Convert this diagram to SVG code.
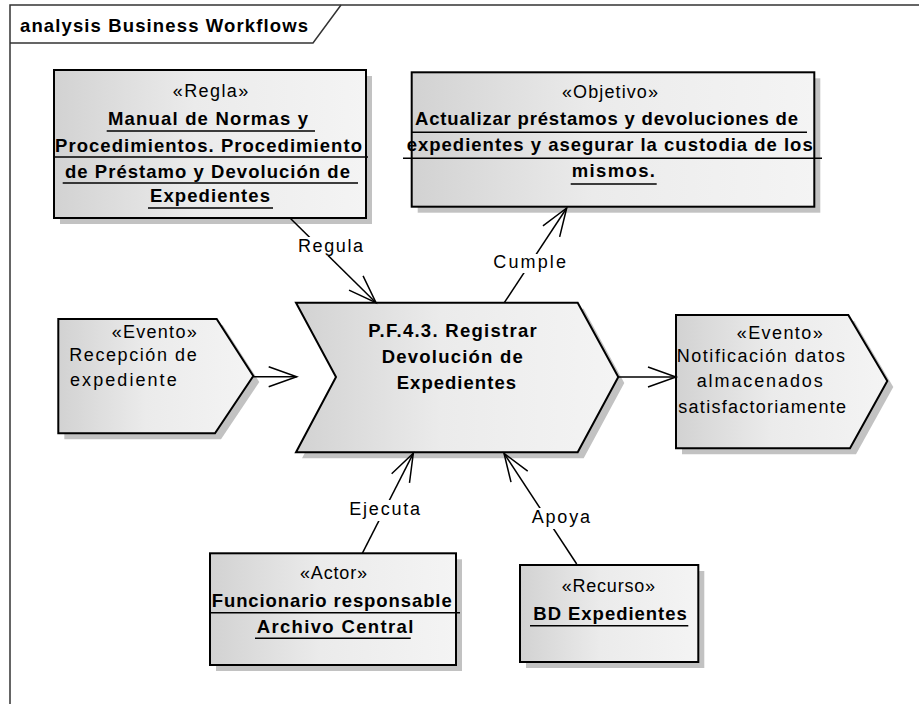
<svg xmlns="http://www.w3.org/2000/svg" width="919" height="704" viewBox="0 0 919 704">
<style>
text{font-family:"Liberation Sans",Arial,sans-serif;font-size:18px;fill:#000}
.b{font-weight:bold;font-size:18.5px}
.shape{fill:url(#g);stroke:#000;stroke-width:2}
.shadow{fill:#c2c2c2;stroke:none}
.ul{stroke:#000;stroke-width:1.5}
.con{fill:none;stroke:#000;stroke-width:1.5}
.lbg{fill:#fff}
.frame{fill:none;stroke:#333;stroke-width:1.5}
</style>
<defs>
<linearGradient id="g" x1="0" y1="0" x2="1" y2="0">
<stop offset="0" stop-color="#d2d2d2"/>
<stop offset="0.45" stop-color="#ebebeb"/>
<stop offset="1" stop-color="#f4f4f4"/>
</linearGradient>
<marker id="arr" markerUnits="userSpaceOnUse" markerWidth="40" markerHeight="30" viewBox="-32 -15 40 30" refX="0" refY="0" orient="auto" overflow="visible">
<path d="M-28,-10 L0,0 L-28,10" fill="none" stroke="#000" stroke-width="1.5"/>
</marker>
</defs>
<rect width="919" height="704" fill="#fff"/>
<g id="frame">
<path class="frame" d="M10,704 V5 H919"/>
<path class="frame" d="M10,43 H313 L341,5"/>
<text class="b" x="20" y="32" textLength="288" lengthAdjust="spacing">analysis Business Workflows</text>
</g>
<g id="regla">
<rect class="shadow" x="60" y="76" width="312" height="148"/>
<rect class="shape" x="54" y="70" width="312" height="148"/>
<text x="172.7" y="97" textLength="75.6" lengthAdjust="spacing">«Regla»</text>
<text class="b" x="108" y="125" textLength="200" lengthAdjust="spacing">Manual de Normas y</text>
<line class="ul" x1="106.7" y1="131" x2="315" y2="131"/>
<text class="b" x="55" y="151.5" textLength="307" lengthAdjust="spacing">Procedimientos. Procedimiento</text>
<line class="ul" x1="54" y1="157" x2="368" y2="157"/>
<text class="b" x="65" y="178" textLength="285" lengthAdjust="spacing">de Préstamo y Devolución de</text>
<line class="ul" x1="62.7" y1="183" x2="358" y2="183"/>
<text class="b" x="150" y="202" textLength="120" lengthAdjust="spacing">Expedientes</text>
<line class="ul" x1="148" y1="208" x2="273" y2="208"/>
</g>
<g id="objetivo">
<rect class="shadow" x="417.7" y="78.3" width="402.6" height="134.4"/>
<rect class="shape" x="411.7" y="72.3" width="402.6" height="134.4"/>
<text x="562" y="98" textLength="96" lengthAdjust="spacing">«Objetivo»</text>
<text class="b" x="415" y="125" textLength="383" lengthAdjust="spacing">Actualizar préstamos y devoluciones de</text>
<line class="ul" x1="412" y1="132.3" x2="807" y2="132.3"/>
<text class="b" x="406.7" y="151" textLength="406" lengthAdjust="spacing">expedientes y asegurar la custodia de los</text>
<line class="ul" x1="403" y1="158.3" x2="822" y2="158.3"/>
<text class="b" x="571.7" y="177" textLength="83.3" lengthAdjust="spacing">mismos.</text>
<line class="ul" x1="570.7" y1="184" x2="656.7" y2="184"/>
</g>
<g id="proceso">
<polygon class="shadow" points="302,308.7 583.7,308.7 624.3,383 583.7,458.3 302,458.3 342,383"/>
<polygon class="shape" points="296,302.7 577.7,302.7 618.3,377 577.7,452.3 296,452.3 336,377"/>
<text class="b" x="368.3" y="336.7" textLength="168.4" lengthAdjust="spacing">P.F.4.3. Registrar</text>
<text class="b" x="381.7" y="362.7" textLength="141" lengthAdjust="spacing">Devolución de</text>
<text class="b" x="396.7" y="388.5" textLength="119.3" lengthAdjust="spacing">Expedientes</text>
</g>
<g id="evento-entrada">
<polygon class="shadow" points="64.3,325 222.7,325 259.3,382 221,439.3 64.3,439.3"/>
<polygon class="shape" points="58.3,319 216.7,319 253.3,376 215,433.3 58.3,433.3"/>
<text x="111.7" y="337.5" textLength="85" lengthAdjust="spacing">«Evento»</text>
<text x="69.3" y="360.5" textLength="127.4" lengthAdjust="spacing">Recepción de</text>
<text x="70" y="386" textLength="106.7" lengthAdjust="spacing">expediente</text>
</g>
<g id="evento-salida">
<polygon class="shadow" points="682,321 854.3,321 893.3,387 856,454.3 682,454.3"/>
<polygon class="shape" points="676,315 848.3,315 887.3,381 850,448.3 676,448.3"/>
<text x="736.7" y="338.5" textLength="86" lengthAdjust="spacing">«Evento»</text>
<text x="676.7" y="361.7" textLength="168.3" lengthAdjust="spacing">Notificación datos</text>
<text x="696.7" y="387.3" textLength="126" lengthAdjust="spacing">almacenados</text>
<text x="678.3" y="413.3" textLength="167.7" lengthAdjust="spacing">satisfactoriamente</text>
</g>
<g id="actor">
<rect class="shadow" x="216" y="559.3" width="246" height="111.7"/>
<rect class="shape" x="210" y="553.3" width="246" height="111.7"/>
<text x="300" y="579" textLength="67" lengthAdjust="spacing">«Actor»</text>
<text class="b" x="211.7" y="606.5" textLength="240" lengthAdjust="spacing">Funcionario responsable</text>
<line class="ul" x1="210" y1="612.7" x2="460" y2="612.7"/>
<text class="b" x="256.7" y="633" textLength="156.6" lengthAdjust="spacing">Archivo Central</text>
<line class="ul" x1="255" y1="638.3" x2="410.7" y2="638.3"/>
</g>
<g id="recurso">
<rect class="shadow" x="526" y="571" width="178.3" height="97"/>
<rect class="shape" x="520" y="565" width="178.3" height="97"/>
<text x="561.7" y="591.7" textLength="93.3" lengthAdjust="spacing">«Recurso»</text>
<text class="b" x="533.3" y="620" textLength="153.4" lengthAdjust="spacing">BD Expedientes</text>
<line class="ul" x1="530" y1="625.7" x2="688.3" y2="625.7"/>
</g>
<g id="connectors">
<line class="con" x1="290" y1="218" x2="376" y2="302.7" marker-end="url(#arr)"/>
<rect class="lbg" x="297" y="237" width="67" height="19"/>
<text x="298" y="251.7" textLength="65" lengthAdjust="spacing">Regula</text>
<line class="con" x1="504.3" y1="302.7" x2="566.7" y2="208" marker-end="url(#arr)"/>
<rect class="lbg" x="492.3" y="254" width="75" height="19"/>
<text x="493.3" y="268.3" textLength="72.7" lengthAdjust="spacing">Cumple</text>
<line class="con" x1="253.3" y1="376.7" x2="296.7" y2="376.7" marker-end="url(#arr)"/>
<line class="con" x1="618.3" y1="377" x2="676" y2="377" marker-end="url(#arr)"/>
<line class="con" x1="362.3" y1="553.3" x2="413.3" y2="453.3" marker-end="url(#arr)"/>
<rect class="lbg" x="348.3" y="500" width="73" height="21"/>
<text x="349.3" y="515" textLength="70.7" lengthAdjust="spacing">Ejecuta</text>
<line class="con" x1="576.7" y1="564" x2="504" y2="453.3" marker-end="url(#arr)"/>
<rect class="lbg" x="530.7" y="508" width="60.3" height="21"/>
<text x="531.7" y="522.7" textLength="58.3" lengthAdjust="spacing">Apoya</text>
</g>
</svg>
